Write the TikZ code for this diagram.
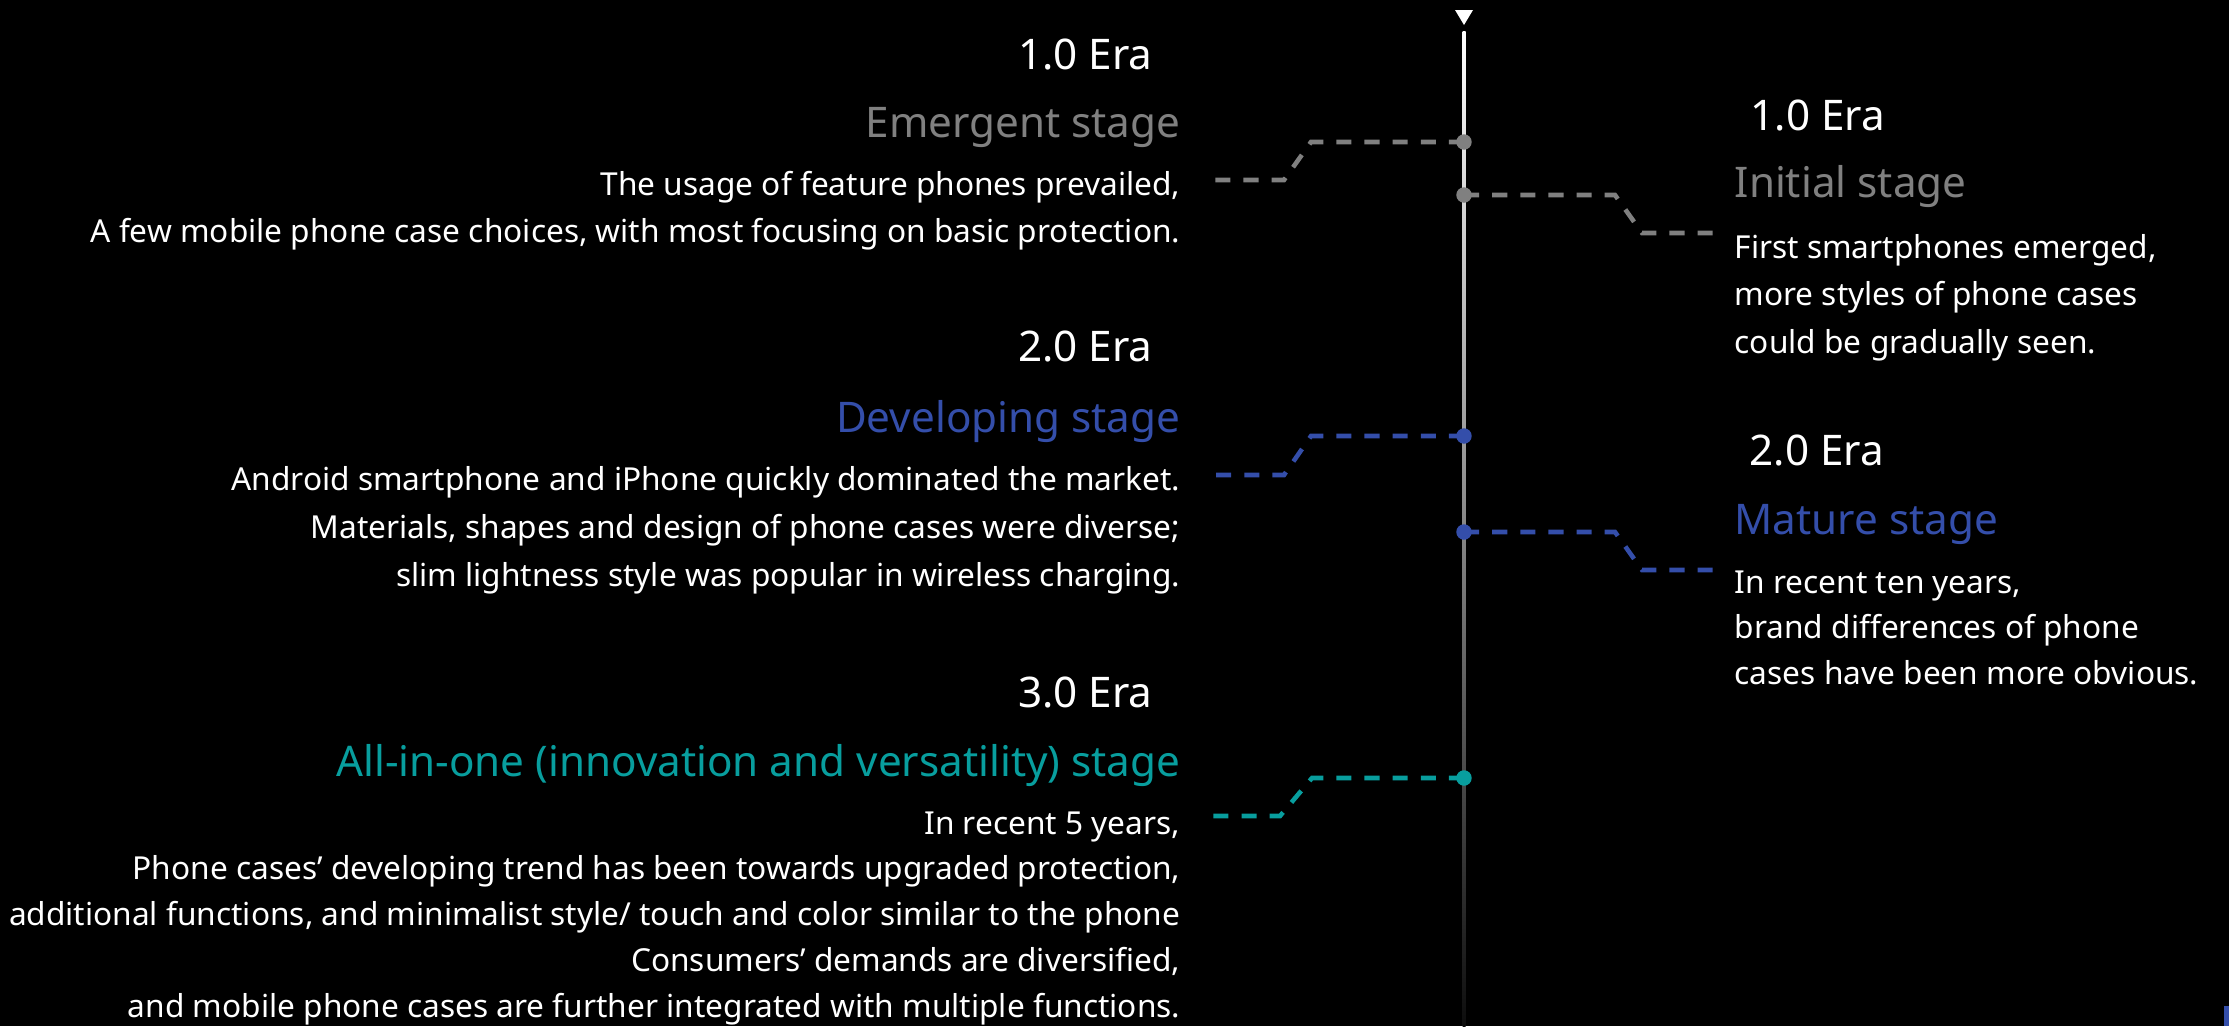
\documentclass[tikz,border=0pt]{standalone}
\usepackage{fontspec}
\setmainfont{Noto Sans}
\usepackage{tikz}

\definecolor{stagegray}{RGB}{128,128,128}
\definecolor{stageblue}{RGB}{52,78,170}
\definecolor{stageteal}{RGB}{8,158,158}

\tikzset{
  era/.style={text=white, inner sep=0pt, font=\fontsize{12.0}{14}\selectfont},
  stage/.style={inner sep=0pt, font=\fontsize{12.0}{14}\selectfont},
  body/.style={text=white, inner sep=0pt, font=\fontsize{9.0}{11}\selectfont},
  link/.style={line width=1.3pt, dash pattern=on 4.3pt off 3.7pt},
  dot/.style={circle, fill, inner sep=0pt, minimum size=4.4pt}
}

\begin{document}
\begin{tikzpicture}[x=0.01cm, y=-0.01cm]
        \fill [black] (0, 0) rectangle (2229, 1026);
        \useasboundingbox (0, 0) rectangle (2229, 1026);

        % time axis
        \fill [white] (1455, 10) -- (1473, 10) -- (1464, 25) -- cycle;
        \shade [top color=white, middle color=white!75!black, bottom color=black!95] (1462.5, 31) rectangle (1465.5, 1026);

        % points on the axis
        \coordinate (d1) at (1464, 142);
        \coordinate (d2) at (1464, 195);
        \coordinate (d3) at (1464, 436);
        \coordinate (d4) at (1464, 532);
        \coordinate (d5) at (1464, 778);

        % free ends of the links
        \coordinate (e1) at (1212, 180);
        \coordinate (e2) at (1714, 233);
        \coordinate (e3) at (1212, 475);
        \coordinate (e4) at (1714, 570);
        \coordinate (e5) at (1212, 816);

        \draw [link, stagegray] (d1) -- ++(-153, 0) -- ++(-27, 38) -- (e1);
        \draw [link, stagegray] (d2) -- ++(151, 0) -- ++(27, 38) -- (e2);
        \draw [link, stageblue] (d3) -- ++(-153, 0) -- ++(-27, 39) -- (e3);
        \draw [link, stageblue] (d4) -- ++(151, 0) -- ++(27, 38) -- (e4);
        \draw [link, stageteal] (d5) -- ++(-152, 0) -- ++(-32, 38) -- (e5);

        \node [dot, stagegray] (p1) at (d1) {};
        \node [dot, stagegray] (p2) at (d2) {};
        \node [dot, stageblue] (p3) at (d3) {};
        \node [dot, stageblue] (p4) at (d4) {};
        \node [dot, stageteal] (p5) at (d5) {};

        % left column
        \node [era, anchor=base east] (era1) at (1153, 69) {1.0 Era};
        \node [stage, stagegray, anchor=base east] (emergent) at (1181, 137) {Emergent stage};
        \foreach \t [count=\i] in {{The usage of feature phones prevailed,},
            {A few mobile phone case choices, with most focusing on basic protection.}}
            \node [body, anchor=base east] (la\i) at (1181, {195+47*(\i-1)}) {\t};

        \node [era, anchor=base east] (era2) at (1153, 361) {2.0 Era};
        \node [stage, stageblue, anchor=base east] (developing) at (1181, 432) {Developing stage};
        \foreach \t [count=\i] in {{Android smartphone and iPhone quickly dominated the market.},
            {Materials, shapes and design of phone cases were diverse;},
            {slim lightness style was popular in wireless charging.}}
            \node [body, anchor=base east] (lb\i) at (1181, {490+48*(\i-1)}) {\t};

        \node [era, anchor=base east] (era3) at (1153, 707) {3.0 Era};
        \node [stage, stageteal, anchor=base east] (allinone) at (1181, 776) {All-in-one (innovation and versatility) stage};
        \foreach \t [count=\i] in {{In recent 5 years,},
            {Phone cases’ developing trend has been towards upgraded protection,},
            {additional functions, and minimalist style/ touch and color similar to the phone},
            {Consumers’ demands are diversified,},
            {and mobile phone cases are further integrated with multiple functions.}}
            \node [body, anchor=base east] (lc\i) at (1181, {834+45.8*(\i-1)}) {\t};

        % right column
        \node [era, anchor=base west] (era4) at (1750, 130) {1.0 Era};
        \node [stage, stagegray, anchor=base west] (initial) at (1734, 197) {Initial stage};
        \foreach \t [count=\i] in {{First smartphones emerged,},
            {more styles of phone cases},
            {could be gradually seen.}}
            \node [body, anchor=base west] (ra\i) at (1734, {258+47.5*(\i-1)}) {\t};

        \node [era, anchor=base west] (era5) at (1749, 465) {2.0 Era};
        \node [stage, stageblue, anchor=base west] (mature) at (1734, 534) {Mature stage};
        \foreach \t [count=\i] in {{In recent ten years,},
            {brand differences of phone},
            {cases have been more obvious.}}
            \node [body, anchor=base west] (rb\i) at (1734, {593+45.5*(\i-1)}) {\t};

        \fill [stageblue] (2224, 1006) rectangle (2229, 1026);
    \end{tikzpicture}
\end{document}
